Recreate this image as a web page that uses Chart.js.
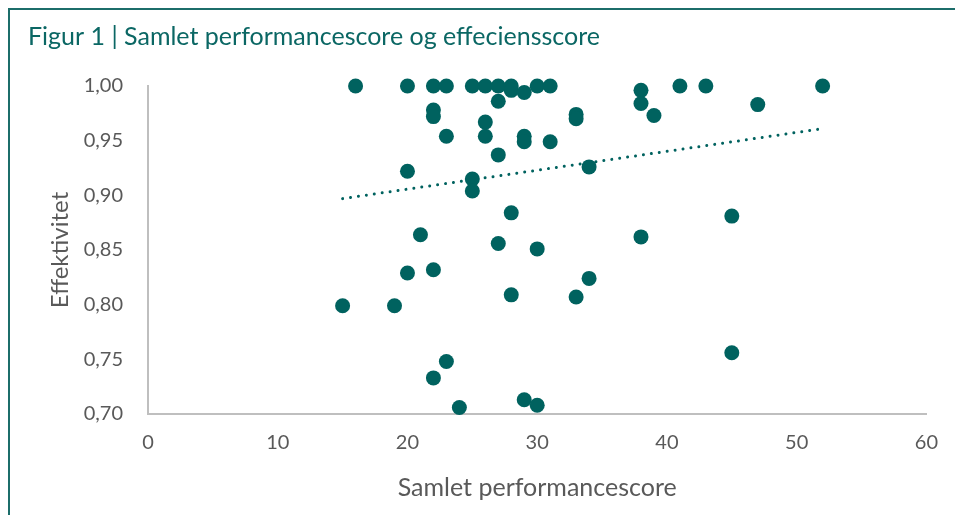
<!DOCTYPE html>
<html>
<head>
<meta charset="utf-8">
<script src="https://cdn.jsdelivr.net/npm/chart.js@4/dist/chart.umd.min.js"></script>
<style>
  html, body { margin: 0; padding: 0; background: #ffffff; overflow: hidden; }
  #wrap { position: relative; width: 955px; height: 515px; }
  #frame { position: absolute; left: 8px; top: 8px; width: 960px; height: 520px;
           border-left: 2px solid #1c6d6a; border-top: 2px solid #1c6d6a; pointer-events: none; }
  canvas { position: absolute; left: 0; top: 0; }
</style>
</head>
<body>
<div id="wrap">
  <canvas id="c" width="955" height="515"></canvas>
  <div id="frame"></div>
</div>
<script>
// ---- data ----
const chartTitle = 'Figur 1 | Samlet performancescore og effeciensscore';
const xAxisTitle = 'Samlet performancescore';
const yAxisTitle = 'Effektivitet';

const performanceScore = [15, 16, 19, 20, 20, 20, 21, 22, 22, 22, 22, 22, 23, 23, 23, 24, 25, 25, 25, 26, 26, 26, 27, 27, 27, 27, 28, 28, 28, 28, 29, 29, 29, 29, 30, 30, 30, 31, 31, 33, 33, 33, 34, 34, 38, 38, 38, 39, 41, 43, 45, 45, 47, 52];
const efficiency = [0.799, 1.000, 0.799, 1.000, 0.922, 0.829, 0.864, 1.000, 0.978, 0.972, 0.832, 0.733, 1.000, 0.954, 0.748, 0.706, 1.000, 0.915, 0.904, 1.000, 0.967, 0.954, 1.000, 0.986, 0.937, 0.856, 1.000, 0.996, 0.884, 0.809, 0.994, 0.954, 0.949, 0.713, 1.000, 0.851, 0.708, 1.000, 0.949, 0.974, 0.970, 0.807, 0.926, 0.824, 0.996, 0.984, 0.862, 0.973, 1.000, 1.000, 0.881, 0.756, 0.983, 1.000];

// linear trend line end points (as drawn in the reference)
const trendX = [15, 52];
const trendY = [0.897, 0.961];

const xTicks = { min: 0, max: 60, step: 10 };
const yTicks = { min: 0.70, max: 1.00, step: 0.05 };

// ---- styles ----
const teal = '#00625f';
const axisText = '#595959';
const axisLine = '#bfbfbf';
const fontFamily = 'Lato, "Open Sans", sans-serif';

const scatterData = performanceScore.map((x, i) => ({ x: x, y: efficiency[i] }));
const trendData = trendX.map((x, i) => ({ x: x, y: trendY[i] }));

new Chart(document.getElementById('c'), {
  type: 'scatter',
  data: {
    datasets: [
      {
        label: 'Kommuner',
        data: scatterData,
        backgroundColor: teal,
        borderWidth: 0,
        pointRadius: 7.5,
        pointHoverRadius: 7.5,
        clip: false,
        order: 0
      },
      {
        type: 'line',
        label: 'Lineær trend',
        data: trendData,
        showLine: true,
        borderColor: teal,
        borderWidth: 3,
        borderDash: [0.01, 7.99],
        borderCapStyle: 'round',
        pointRadius: 0,
        fill: false,
        clip: false,
        order: 1
      }
    ]
  },
  options: {
    responsive: false,
    devicePixelRatio: 1,
    animation: false,
    layout: { padding: { left: 28, right: 27, top: 0, bottom: 0 } },
    plugins: {
      legend: { display: false },
      tooltip: { enabled: false },
      title: {
        display: true,
        text: chartTitle,
        align: 'start',
        color: '#0b6764',
        font: { family: fontFamily, size: 25, weight: 'normal', lineHeight: 1.2 },
        padding: { top: 22, bottom: 34 }
      }
    },
    scales: {
      x: {
        type: 'linear',
        min: xTicks.min,
        max: xTicks.max,
        grid: { display: false, drawTicks: false, tickLength: 0 },
        border: { display: true, color: axisLine, width: 2 },
        ticks: {
          stepSize: xTicks.step,
          color: axisText,
          padding: 17,
          font: { family: fontFamily, size: 20 },
          maxRotation: 0
        },
        title: {
          display: true,
          text: xAxisTitle,
          color: axisText,
          font: { family: fontFamily, size: 25, lineHeight: 1.2 },
          padding: { top: 0, bottom: 12 }
        },
        afterFit: (s) => { s.height = 101; }
      },
      y: {
        type: 'linear',
        min: yTicks.min,
        max: yTicks.max,
        grid: { display: false, drawTicks: false, tickLength: 0 },
        border: { display: true, color: axisLine, width: 2 },
        ticks: {
          stepSize: yTicks.step,
          color: axisText,
          padding: 25,
          font: { family: fontFamily, size: 20 },
          callback: (v) => Number(v).toFixed(2).replace('.', ',')
        },
        title: {
          display: true,
          text: yAxisTitle,
          color: axisText,
          font: { family: fontFamily, size: 24, lineHeight: 1.2 },
          padding: { top: 17.6, bottom: 0 }
        },
        afterFit: (s) => { s.width = 120; }
      }
    }
  }
});
</script>
</body>
</html>
